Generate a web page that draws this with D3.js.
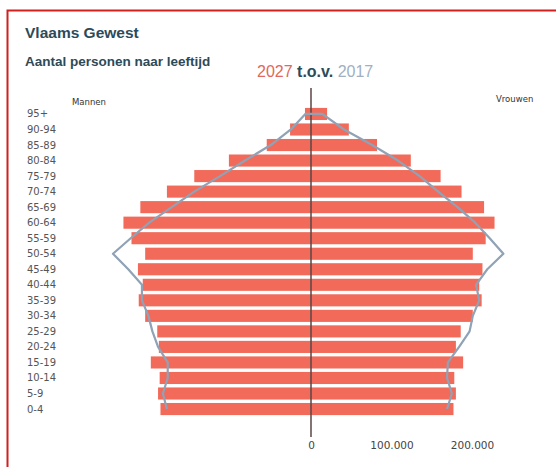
<!DOCTYPE html>
<html>
<head>
<meta charset="utf-8">
<script src="https://d3js.org/d3.v7.min.js"></script>
<style>
  body { margin: 0; background: #fff; }
  svg { display: block; }
</style>
</head>
<body>
<div id="chart"></div>
<script>
var width = 556, height = 467;

// leeftijdsklassen, van boven naar onder
var ages = ["95+","90-94","85-89","80-84","75-79","70-74","65-69","60-64","55-59","50-54",
            "45-49","40-44","35-39","30-34","25-29","20-24","15-19","10-14","5-9","0-4"];

// 2027 (balken)
var men2027   = [7500, 26000, 55000, 102000, 145000, 179000, 212000, 233000, 223000, 206000,
                 215000, 209000, 214000, 206000, 191000, 189000, 199000, 188000, 190000, 187000];
var women2027 = [20000, 47000, 82000, 124000, 161000, 187000, 215000, 228000, 217000, 201000,
                 213000, 209000, 212000, 201000, 186000, 180000, 189000, 178000, 180000, 177000];

// 2017 (lijn)
var men2017   = [7000, 25000, 50000, 82000, 113000, 145000, 173000, 201000, 224000, 246000,
                 227000, 210000, 210000, 202000, 197000, 190000, 178000, 178000, 184000, 179000];
var women2017 = [14000, 41000, 76000, 108000, 135000, 158000, 182000, 204000, 222000, 239000,
                 219000, 205000, 209000, 201000, 197000, 184000, 170000, 169000, 175000, 169000];

var xTicks = [0, 100000, 200000];

var barColor = "#f26b5a";
var lineColor = "#8fa2b6";
var darkText = "#2d4a5a";

var nl = d3.formatLocale({decimal: ",", thousands: ".", grouping: [3], currency: ["€", ""]});
var formatNum = nl.format(",");

var svg = d3.select("#chart").append("svg")
    .attr("width", width)
    .attr("height", height);

svg.append("rect")
    .attr("width", width).attr("height", height)
    .attr("fill", "#fff");

// rode kader
svg.append("path")
    .attr("d", "M7.5," + height + "V10.5H" + width)
    .attr("fill", "none")
    .attr("stroke", "#d0211f")
    .attr("stroke-width", 2);

var x = d3.scaleLinear()
    .domain([-250000, 250000])
    .range([109.75, 512.25]);

var y = d3.scaleBand()
    .domain(ages)
    .range([106.2, 416.8])
    .paddingInner(0.22)
    .paddingOuter(0.11);

// titels
svg.append("text")
    .attr("x", 25).attr("y", 38)
    .style("font-family", "Liberation Sans, Arial, sans-serif")
    .style("font-weight", "bold")
    .style("font-size", "15.5px")
    .attr("fill", darkText)
    .text("Vlaams Gewest");

svg.append("text")
    .attr("x", 25).attr("y", 66)
    .style("font-family", "Liberation Sans, Arial, sans-serif")
    .style("font-weight", "bold")
    .style("font-size", "13.5px")
    .attr("fill", darkText)
    .text("Aantal personen naar leeftijd");

var head = svg.append("text")
    .attr("x", 257).attr("y", 77)
    .style("font-family", "Liberation Sans, Arial, sans-serif")
    .style("font-size", "16px");
head.append("tspan").attr("fill", "#e0685c").text("2027 ");
head.append("tspan").attr("fill", darkText).style("font-weight", "bold").text("t.o.v. ");
head.append("tspan").attr("fill", "#9eb0c2").text("2017");

svg.append("text")
    .attr("x", 72).attr("y", 105)
    .style("font-family", "DejaVu Sans, sans-serif")
    .style("font-size", "8.5px")
    .attr("fill", "#333")
    .text("Mannen");

svg.append("text")
    .attr("x", 496).attr("y", 102)
    .style("font-family", "DejaVu Sans, sans-serif")
    .style("font-size", "8.5px")
    .attr("fill", "#333")
    .text("Vrouwen");

// leeftijdslabels
svg.append("g").selectAll("text")
    .data(ages)
    .enter().append("text")
    .attr("x", 27)
    .attr("y", function(d){ return y(d) + y.bandwidth()/2 + 3.5; })
    .style("font-family", "DejaVu Sans, sans-serif")
    .style("font-size", "10px")
    .attr("fill", "#555")
    .text(function(d){ return d; });

// balken 2027
var bars = svg.append("g");
bars.selectAll("rect.m")
    .data(ages)
    .enter().append("rect")
    .attr("class", "m")
    .attr("x", function(d, i){ return x(-men2027[i]); })
    .attr("y", function(d){ return y(d); })
    .attr("width", function(d, i){ return x(0) - x(-men2027[i]); })
    .attr("height", y.bandwidth())
    .attr("fill", barColor);
bars.selectAll("rect.v")
    .data(ages)
    .enter().append("rect")
    .attr("class", "v")
    .attr("x", x(0))
    .attr("y", function(d){ return y(d); })
    .attr("width", function(d, i){ return x(women2027[i]) - x(0); })
    .attr("height", y.bandwidth())
    .attr("fill", barColor);

// nullijn
svg.append("line")
    .attr("x1", x(0)).attr("x2", x(0))
    .attr("y1", 88).attr("y2", 437)
    .attr("stroke", "#5b4646")
    .attr("stroke-width", 1.5);

// lijn 2017
var line = d3.line()
    .x(function(d){ return x(d[0]); })
    .y(function(d){ return y(d[1]) + y.bandwidth()/2; });

var outline = [];
for (var i = ages.length - 1; i >= 0; i--) outline.push([-men2017[i], ages[i]]);
for (var j = 0; j < ages.length; j++) outline.push([women2017[j], ages[j]]);

svg.append("path")
    .datum(outline)
    .attr("d", line)
    .attr("fill", "none")
    .attr("stroke", lineColor)
    .attr("stroke-width", 2.2)
    .attr("stroke-linejoin", "round");

// x-as
var xAxis = d3.axisBottom(x)
    .tickValues(xTicks)
    .tickSize(0)
    .tickPadding(0)
    .tickFormat(formatNum);

var gx = svg.append("g")
    .attr("transform", "translate(0,441)")
    .call(xAxis);
gx.select(".domain").remove();
gx.selectAll("text")
    .attr("dy", "0.72em")
    .style("font-family", "DejaVu Sans, sans-serif")
    .style("font-size", "10.5px")
    .attr("fill", "#444");
</script>
</body>
</html>
